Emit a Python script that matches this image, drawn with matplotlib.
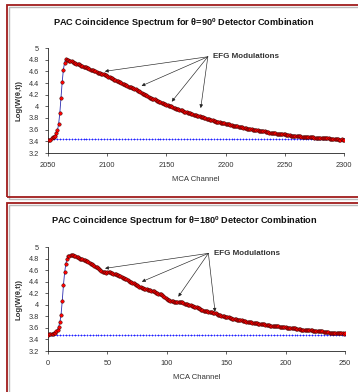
import numpy as np
import matplotlib
matplotlib.use("Agg")
import matplotlib.pyplot as plt
from matplotlib.patches import Rectangle
from matplotlib.ticker import FuncFormatter

plt.rcParams['font.family'] = ['Liberation Sans', 'DejaVu Sans']

# theta = 90 deg spectrum, one value per MCA channel 2050..2300
ch_90 = np.arange(2050, 2301)
logw_90 = [
    3.42, 3.42, 3.43, 3.45, 3.47, 3.48, 3.50, 3.55, 3.59, 3.70,
    3.89, 4.15, 4.42, 4.63, 4.75, 4.81, 4.80, 4.79, 4.78, 4.77,
    4.77, 4.76, 4.75, 4.74, 4.73, 4.73, 4.72, 4.71, 4.70, 4.69,
    4.68, 4.68, 4.67, 4.66, 4.65, 4.64, 4.63, 4.63, 4.62, 4.61,
    4.60, 4.59, 4.58, 4.57, 4.57, 4.56, 4.56, 4.55, 4.54, 4.53,
    4.52, 4.51, 4.50, 4.49, 4.48, 4.47, 4.46, 4.45, 4.44, 4.43,
    4.42, 4.41, 4.40, 4.39, 4.38, 4.37, 4.36, 4.35, 4.34, 4.34,
    4.33, 4.32, 4.31, 4.30, 4.29, 4.28, 4.27, 4.26, 4.24, 4.23,
    4.22, 4.21, 4.20, 4.19, 4.17, 4.16, 4.15, 4.14, 4.13, 4.12,
    4.12, 4.11, 4.10, 4.09, 4.08, 4.07, 4.06, 4.05, 4.04, 4.04,
    4.03, 4.02, 4.01, 4.00, 4.00, 3.99, 3.98, 3.97, 3.96, 3.96,
    3.95, 3.94, 3.93, 3.93, 3.92, 3.91, 3.91, 3.90, 3.89, 3.89,
    3.88, 3.87, 3.87, 3.86, 3.85, 3.85, 3.84, 3.84, 3.83, 3.82,
    3.82, 3.81, 3.80, 3.80, 3.79, 3.78, 3.78, 3.77, 3.77, 3.76,
    3.75, 3.75, 3.74, 3.74, 3.73, 3.73, 3.72, 3.72, 3.71, 3.71,
    3.70, 3.70, 3.69, 3.69, 3.68, 3.68, 3.67, 3.67, 3.67, 3.66,
    3.66, 3.65, 3.65, 3.64, 3.64, 3.63, 3.63, 3.63, 3.62, 3.62,
    3.61, 3.61, 3.61, 3.60, 3.60, 3.59, 3.59, 3.59, 3.58, 3.58,
    3.58, 3.57, 3.57, 3.57, 3.56, 3.56, 3.56, 3.55, 3.55, 3.55,
    3.54, 3.54, 3.54, 3.53, 3.53, 3.53, 3.53, 3.52, 3.52, 3.52,
    3.52, 3.51, 3.51, 3.51, 3.51, 3.50, 3.50, 3.50, 3.50, 3.49,
    3.49, 3.49, 3.49, 3.49, 3.48, 3.48, 3.48, 3.48, 3.48, 3.47,
    3.47, 3.47, 3.47, 3.47, 3.47, 3.46, 3.46, 3.46, 3.46, 3.46,
    3.46, 3.45, 3.45, 3.45, 3.45, 3.45, 3.45, 3.45, 3.44, 3.44,
    3.44, 3.44, 3.44, 3.44, 3.44, 3.44, 3.43, 3.43, 3.44, 3.43, 3.43,
]
bg_90 = 3.44
arrows_90 = [(2098, 4.60), (2129, 4.35), (2154.5, 4.08), (2179, 3.97)]
label_90 = (2185, 4.85)

# theta = 180 deg spectrum, MCA channels 0..250
ch_180 = np.arange(0, 251)
logw_180 = [
    3.48, 3.49, 3.49, 3.50, 3.50, 3.51, 3.52, 3.54, 3.57, 3.62,
    3.70, 3.83, 4.07, 4.34, 4.56, 4.71, 4.80, 4.84, 4.85, 4.86,
    4.86, 4.86, 4.85, 4.84, 4.83, 4.82, 4.81, 4.80, 4.80, 4.79,
    4.78, 4.77, 4.76, 4.75, 4.74, 4.72, 4.71, 4.70, 4.68, 4.67,
    4.66, 4.65, 4.63, 4.62, 4.60, 4.59, 4.57, 4.56, 4.56, 4.55,
    4.56, 4.56, 4.56, 4.55, 4.55, 4.54, 4.54, 4.53, 4.52, 4.51,
    4.50, 4.49, 4.48, 4.47, 4.46, 4.45, 4.44, 4.43, 4.42, 4.40,
    4.39, 4.38, 4.37, 4.36, 4.35, 4.34, 4.33, 4.31, 4.30, 4.29,
    4.29, 4.28, 4.28, 4.27, 4.26, 4.26, 4.25, 4.24, 4.23, 4.23,
    4.22, 4.21, 4.20, 4.19, 4.18, 4.18, 4.17, 4.15, 4.13, 4.11,
    4.10, 4.09, 4.08, 4.07, 4.06, 4.06, 4.05, 4.05, 4.04, 4.04,
    4.04, 4.04, 4.04, 4.04, 4.03, 4.02, 4.01, 4.01, 4.00, 3.99,
    3.99, 3.98, 3.98, 3.97, 3.97, 3.96, 3.95, 3.94, 3.92, 3.91,
    3.91, 3.90, 3.90, 3.89, 3.89, 3.88, 3.88, 3.87, 3.87, 3.86,
    3.85, 3.85, 3.84, 3.83, 3.83, 3.82, 3.81, 3.81, 3.80, 3.79,
    3.79, 3.78, 3.78, 3.77, 3.77, 3.76, 3.76, 3.75, 3.75, 3.74,
    3.74, 3.74, 3.73, 3.73, 3.72, 3.72, 3.72, 3.71, 3.71, 3.70,
    3.70, 3.70, 3.69, 3.69, 3.68, 3.68, 3.68, 3.67, 3.67, 3.67,
    3.66, 3.66, 3.66, 3.65, 3.65, 3.65, 3.65, 3.64, 3.64, 3.64,
    3.64, 3.63, 3.63, 3.63, 3.63, 3.62, 3.62, 3.62, 3.61, 3.61,
    3.61, 3.60, 3.60, 3.60, 3.60, 3.59, 3.59, 3.59, 3.59, 3.58,
    3.58, 3.58, 3.58, 3.57, 3.57, 3.57, 3.57, 3.57, 3.56, 3.56,
    3.56, 3.56, 3.56, 3.55, 3.55, 3.55, 3.55, 3.54, 3.54, 3.54,
    3.54, 3.54, 3.53, 3.53, 3.53, 3.53, 3.53, 3.52, 3.52, 3.52,
    3.52, 3.52, 3.52, 3.51, 3.51, 3.51, 3.51, 3.51, 3.51, 3.50, 3.51,
]
bg_180 = 3.47
arrows_180 = [(48, 4.63), (79, 4.40), (109.7, 4.14), (140.6, 3.88)]
label_180 = (135, 4.89)

y_ticks = np.arange(3.2, 5.01, 0.2)
box_red = '#a01c1c'


def draw_panel(ax, ch, logw, bg, arrows, label_at, xticks, title, title_y):
    # flat background level, marked every 2.5 channels
    bg_ch = np.arange(ch[0], ch[-1] + 0.1, 2.5)
    ax.plot(bg_ch, np.full(len(bg_ch), bg), color='#2020ff', ls=':', lw=0.5,
            marker='+', ms=2.0, mew=0.5, zorder=2)
    ax.plot(ch, logw, color='#2b2bb0', lw=0.6, marker='o', ms=2.5,
            mfc='#ff0000', mec='#2a0000', mew=0.3, zorder=3)

    for x, y in arrows:
        ax.annotate('', xy=(x, y), xytext=label_at,
                    arrowprops=dict(arrowstyle='-|>', color='#222222',
                                    lw=0.45, mutation_scale=5,
                                    shrinkA=0, shrinkB=0), zorder=4)
    ax.annotate('EFG Modulations', xy=label_at, xytext=(4, 0),
                textcoords='offset points', ha='left', va='center',
                fontsize=5.8, fontweight='bold', color='#333333')

    ax.set_xlim(xticks[0], xticks[-1])
    ax.set_ylim(3.2, 5.0)
    ax.set_xticks(xticks)
    ax.set_yticks(y_ticks)
    ax.yaxis.set_major_formatter(FuncFormatter(lambda v, p: '%g' % round(v, 1)))
    for side in ['top', 'right']:
        ax.spines[side].set_visible(False)
    for side in ['left', 'bottom']:
        ax.spines[side].set_linewidth(0.6)
        ax.spines[side].set_color('#222222')
    ax.tick_params(axis='both', labelsize=5.3, colors='#222222', width=0.5,
                   length=2.5, pad=4, labelcolor='#333333')
    ax.set_xlabel('MCA Channel', fontsize=5.6, color='#333333')
    ax.xaxis.set_label_coords(0.5, -0.22)
    ax.set_ylabel('Log(W(θ,t))', fontsize=5.6, fontweight='bold',
                  color='#333333')
    ax.yaxis.set_label_coords(-0.085, 0.5)
    fig.text(0.514, title_y, title, ha='center', va='center', fontsize=6.6,
             fontweight='bold', color='#111111')


fig = plt.figure(figsize=(3.58, 3.92), dpi=100)

# framed boxes around each chart, running off the right edge
for y0, h in [(1 - 197 / 392, 192 / 392), (0.0 - 0.02, 1 - 203 / 392 + 0.02)]:
    fig.patches.append(Rectangle((8.5 / 358, y0 - 1.5 / 392), 1.2, h,
                                 transform=fig.transFigure, fill=False,
                                 edgecolor='#bbbbbb', lw=1.0, zorder=0))
    fig.patches.append(Rectangle((6.5 / 358, y0), 1.2, h,
                                 transform=fig.transFigure, fill=False,
                                 edgecolor=box_red, lw=1.3, zorder=1))

ax1 = fig.add_axes([48 / 358, 1 - 153 / 392, 296 / 358, 105 / 392])
draw_panel(ax1, ch_90, logw_90, bg_90, arrows_90, label_90,
           [2050, 2100, 2150, 2200, 2250, 2300],
           'PAC Coincidence Spectrum for θ=90$^{\\mathregular{0}}$ Detector Combination',
           1 - 23 / 392)

ax2 = fig.add_axes([48 / 358, 1 - 351 / 392, 297 / 358, 104 / 392])
draw_panel(ax2, ch_180, logw_180, bg_180, arrows_180, label_180,
           [0, 50, 100, 150, 200, 250],
           'PAC Coincidence Spectrum for θ=180$^{\\mathregular{0}}$ Detector Combination',
           1 - 221 / 392)

fig.savefig('out.png', dpi=100)
